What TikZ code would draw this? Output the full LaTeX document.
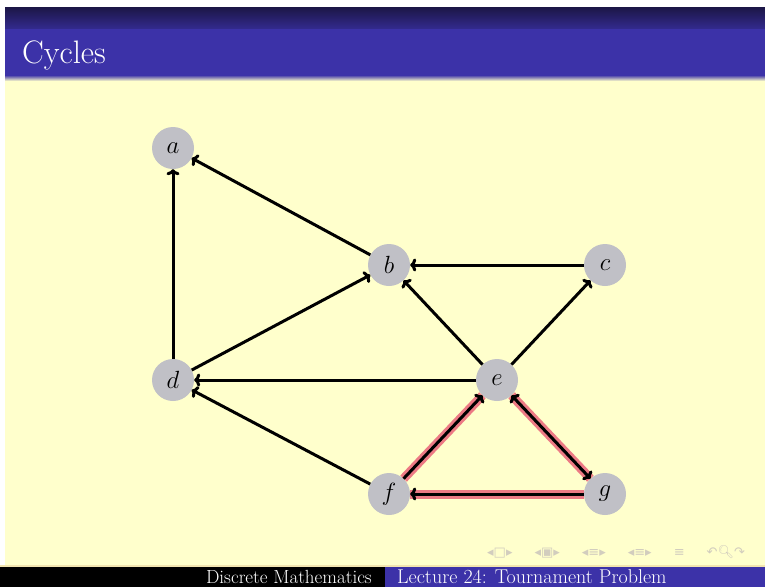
\documentclass[tikz,border=0pt]{standalone}
\usepackage{fontspec}
\newfontfamily\symfont{DejaVu Sans}
\newfontfamily\emojifont{Noto Emoji}
\usetikzlibrary{arrows.meta,shadings}
\definecolor{bgyellow}{RGB}{255,255,204}
\definecolor{titleblue}{RGB}{60,50,168}
\definecolor{darknavy}{RGB}{28,22,70}
\definecolor{nodegrey}{RGB}{192,192,198}
\definecolor{hlred}{RGB}{236,122,132}
\definecolor{navgrey}{RGB}{210,205,190}
\tikzset{
  vert/.style={circle, fill=nodegrey, minimum size=42pt, inner sep=0pt, font=\fontsize{23}{23}\selectfont},
  edge/.style={line width=3pt, black, -{To[length=6pt,width=13pt]}},
  bothedge/.style={line width=3pt, black, {To[length=6pt,width=13pt]}-{To[length=6pt,width=13pt]}},
  hl/.style={line width=9pt, hlred},
}
\begin{document}
\begin{tikzpicture}[x=1pt,y=-1pt]
\useasboundingbox (0,0) rectangle (765,587);
% backgrounds
\fill[white] (0,0) rectangle (765,587);
\fill[bgyellow] (5,78) rectangle (765,566);
\shade[top color=darknavy, bottom color=titleblue!85!black] (5,7) rectangle (765,29);
\fill[titleblue] (5,29) rectangle (765,75);
\shade[top color=titleblue, bottom color=bgyellow] (5,75) rectangle (765,81);
\fill[bgyellow!80!brown] (0,565) rectangle (765,567);
\fill[black] (0,567) rectangle (385,587);
\fill[titleblue] (385,567) rectangle (765,587);
% title and footer text
\node[anchor=base west, text=white, inner sep=0pt, font=\fontsize{32.5}{32.5}\selectfont] (title) at (22,63) {Cycles};
\node[anchor=base east, text=white, inner sep=0pt, font=\fontsize{19}{19}\selectfont] (footl) at (372,583) {Discrete Mathematics};
\node[anchor=base west, text=white, inner sep=0pt, font=\fontsize{20}{20}\selectfont] (footr) at (397,583) {Lecture 24: Tournament Problem};
\node[anchor=base west, text=navgrey, inner sep=0pt, font=\symfont\fontsize{13}{13}\selectfont] (nav) at (487,556) {◂□▸\hspace{22pt}◂▣▸\hspace{22pt}◂≡▸\hspace{22pt}◂≡▸\hspace{22pt}≡\hspace{22pt}↶{\emojifont 🔍}↷};
% vertices
\node[vert] (a) at (173,148) {$a$};
\node[vert] (b) at (389,265) {$b$};
\node[vert] (c) at (605,265) {$c$};
\node[vert] (d) at (173,380) {$d$};
\node[vert] (e) at (497,380) {$e$};
\node[vert] (f) at (389,494) {$f$};
\node[vert] (g) at (605,494) {$g$};
% highlighted cycle
\draw[hl] (f) -- (e);
\draw[hl] (e) -- (g);
\draw[hl] (g) -- (f);
% edges
\draw[edge] (d) -- (a);
\draw[edge] (b) -- (a);
\draw[edge] (c) -- (b);
\draw[edge] (d) -- (b);
\draw[edge] (e) -- (b);
\draw[edge] (e) -- (c);
\draw[edge] (e) -- (d);
\draw[edge] (f) -- (d);
\draw[edge] (f) -- (e);
\draw[bothedge] (e) -- (g);
\draw[edge] (g) -- (f);
\end{tikzpicture}
\end{document}
